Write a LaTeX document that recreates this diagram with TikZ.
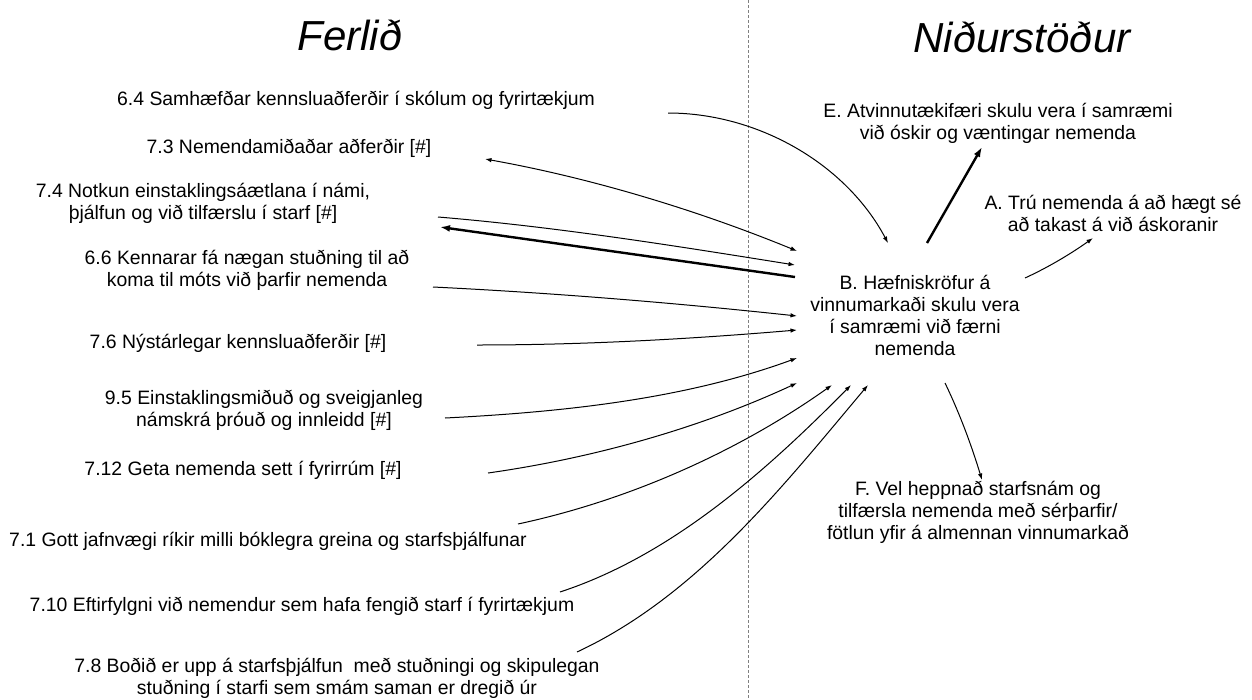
\documentclass[tikz,border=0pt]{standalone}
\usepackage{fontspec}
\setmainfont{Liberation Sans}
\usetikzlibrary{arrows.meta}
\begin{document}
\begin{tikzpicture}[x=1pt,y=-1pt,
  lbl/.style={font=\fontsize{19.4}{22}\selectfont, align=center, inner sep=0pt},
  ttl/.style={font=\fontsize{42}{48}\selectfont\itshape, inner sep=0pt, anchor=base},
  con/.style={line width=1pt, -{Latex[length=6.5pt,width=4.5pt]}},
  dcon/.style={line width=1pt, {Latex[length=6.5pt,width=4.5pt]}-{Latex[length=6.5pt,width=4.5pt]}},
  heavy/.style={line width=2.4pt, -{Latex[length=10pt,width=7pt]}},
  divider/.style={line width=1pt, gray, dash pattern=on 2.5pt off 2.5pt}
]
\fill[white] (0,0) rectangle (1252,699);
\useasboundingbox (0,0) rectangle (1252,699);

\draw[divider] (748,0) -- (748,699);

\node[ttl] (tF) at (350,50) {Ferlið};
\node[ttl] (tN) at (1022,52) {Niðurstöður};

\node[lbl] (n64) at (356,100) {6.4 Samhæfðar kennsluaðferðir í skólum og fyrirtækjum};
\node[lbl] (n73) at (289,148) {7.3 Nemendamiðaðar aðferðir [\#]};
\node[lbl] (n74) at (203,203) {7.4 Notkun einstaklingsáætlana í námi,\\ þjálfun og við tilfærslu í starf [\#]};
\node[lbl] (n66) at (247,270) {6.6 Kennarar fá nægan stuðning til að\\ koma til móts við þarfir nemenda};
\node[lbl] (n76) at (238,343) {7.6 Nýstárlegar kennsluaðferðir [\#]};
\node[lbl] (n95) at (264,410) {9.5 Einstaklingsmiðuð og sveigjanleg\\ námskrá þróuð og innleidd [\#]};
\node[lbl] (n712) at (243,470) {7.12 Geta nemenda sett í fyrirrúm [\#]};
\node[lbl] (n71) at (268,541) {7.1 Gott jafnvægi ríkir milli bóklegra greina og starfsþjálfunar};
\node[lbl] (n710) at (302,606) {7.10 Eftirfylgni við nemendur sem hafa fengið starf í fyrirtækjum};
\node[lbl] (n78) at (337,678) {7.8 Boðið er upp á starfsþjálfun\ \ með stuðningi og skipulegan\\ stuðning í starfi sem smám saman er dregið úr};

\node[lbl] (nE) at (998,123) {E. Atvinnutækifæri skulu vera í samræmi\\ við óskir og væntingar nemenda};
\node[lbl] (nA) at (1113,213) {A. Trú nemenda á að hægt sé\\ að takast á við áskoranir};
\node[lbl] (nB) at (915,315) {B. Hæfniskröfur á\\ vinnumarkaði skulu vera\\ í samræmi við færni\\ nemenda};
\node[lbl] (nF) at (978,512) {F. Vel heppnað starfsnám og\\ tilfærsla nemenda með sérþarfir/\\ fötlun yfir á almennan vinnumarkað};

% connector end points
\coordinate (s64) at (668,113);  \coordinate (b64) at (888,243);
\coordinate (s73) at (485,159);  \coordinate (b73) at (797,251);
\coordinate (s74) at (438,217);  \coordinate (b74) at (795,265);
\coordinate (s74h) at (440,227); \coordinate (b74h) at (795,277);
\coordinate (s66) at (433,287);  \coordinate (b66) at (797,316);
\coordinate (s76) at (477,345);  \coordinate (b76) at (797,330);
\coordinate (s95) at (445,418);  \coordinate (b95) at (797,358);
\coordinate (s712) at (488,473); \coordinate (b712) at (797,383);
\coordinate (s71) at (518,524);  \coordinate (b71) at (832,385);
\coordinate (s710) at (560,592); \coordinate (b710) at (851,385);
\coordinate (s78) at (577,652);  \coordinate (b78) at (868,385);
\coordinate (bE) at (927,243);   \coordinate (eE) at (982,147);
\coordinate (bA) at (1025,278);  \coordinate (eA) at (1093,238);
\coordinate (bF) at (945,383);   \coordinate (eF) at (982,480);

\draw[con] (s64) .. controls (758,113) and (846,164) .. (b64);
\draw[dcon] (s73) .. controls (591,178) and (697,210) .. (b73);
\draw[con] (s74) .. controls (558,227) and (676,246) .. (b74);
\draw[heavy] (b74h) -- (s74h);
\draw[con] (s66) .. controls (555,293) and (676,303) .. (b66);
\draw[con] (s76) .. controls (584,345) and (691,339) .. (b76);
\draw[con] (s95) .. controls (564,412) and (685,399) .. (b95);
\draw[con] (s712) .. controls (594,458) and (700,428) .. (b712);
\draw[con] (s71) .. controls (630,500) and (739,451) .. (b71);
\draw[con] (s710) .. controls (673,555) and (768,469) .. (b710);
\draw[con] (s78) .. controls (697,596) and (783,486) .. (b78);

\draw[heavy] (bE) -- (eE);
\draw[con] (bA) .. controls (1049,267) and (1072,253) .. (eA);
\draw[con] (bF) .. controls (960,414) and (972,447) .. (eF);
\end{tikzpicture}
\end{document}
